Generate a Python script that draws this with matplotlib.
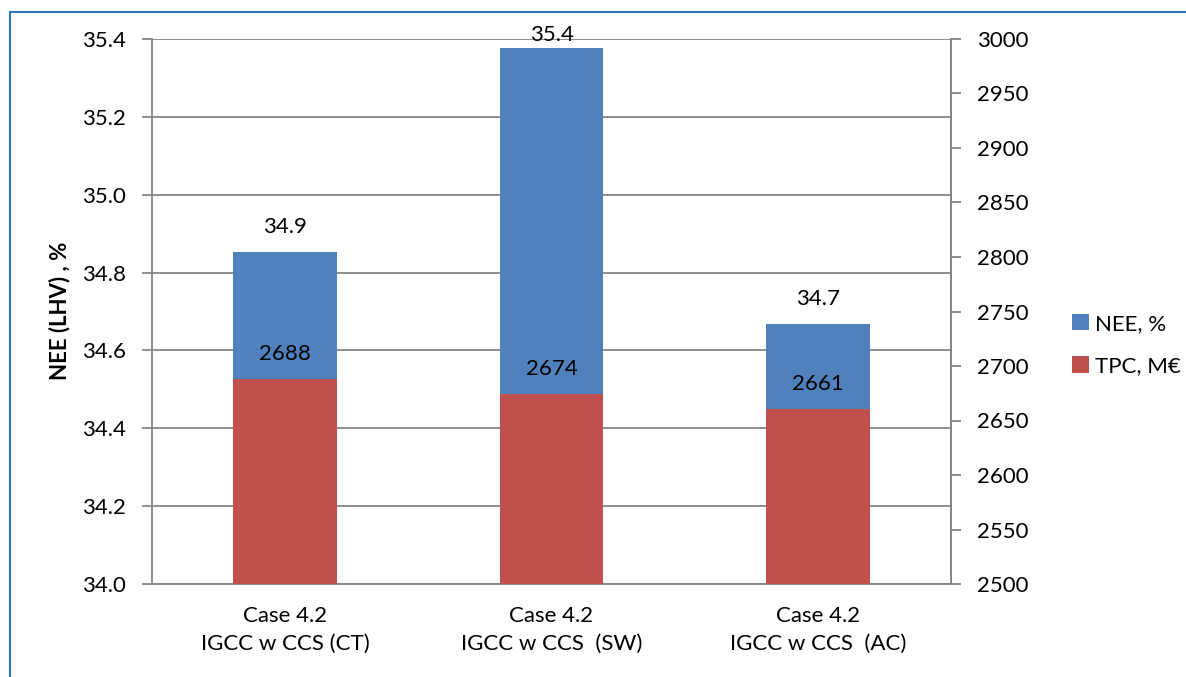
import matplotlib
matplotlib.use("Agg")
import matplotlib.pyplot as plt
from matplotlib.patches import Rectangle

plt.rcParams['font.family'] = ['Lato', 'DejaVu Sans']

# Datos de los tres casos
casos = ["Case 4.2\nIGCC w CCS (CT)", "Case 4.2\nIGCC w CCS  (SW)", "Case 4.2\nIGCC w CCS  (AC)"]
nee = [34.853, 35.377, 34.668]      # NEE (LHV), %
tpc = [2688, 2674, 2661]            # TPC, M€

azul = '#4F81BD'
rojo = '#C0504D'
gris = '#868686'
fs = 16

fig = plt.figure(figsize=(11.86, 6.77), dpi=100)
ax = fig.add_axes([152 / 1186, 1 - 584 / 677, 799 / 1186, 545 / 677])
ax2 = ax.twinx()

x = range(len(casos))
ancho = 0.39

b1 = ax.bar(x, nee, width=ancho, color=azul, label='NEE, %', zorder=2)
ax.set_ylim(34.0, 35.4)
ax.set_yticks([34.0, 34.2, 34.4, 34.6, 34.8, 35.0, 35.2, 35.4])
ax.set_yticklabels(['%.1f' % v for v in ax.get_yticks()])
ax.set_xlim(-0.5, 2.5)
ax.set_xticks(list(x))
ax.set_xticklabels(casos, fontsize=fs, linespacing=1.45)
ax.tick_params(axis='x', length=0, pad=16)
ax.tick_params(axis='y', labelsize=fs, length=7, color=gris, width=1.3, pad=12)
ax.grid(axis='y', color=gris, linewidth=1.3, zorder=0)
ax.set_axisbelow(True)

# Título del eje izquierdo, junto a las marcas
fig.text(60 / 1186, 1 - 311 / 677, 'NEE (LHV) , %', rotation=90, ha='center', va='center',
         fontsize=fs, fontweight='bold')

b2 = ax2.bar(x, [v - 2500 for v in tpc], bottom=2500, width=ancho, color=rojo,
             label='TPC, M€', zorder=3)
ax2.set_ylim(2500, 3000)
ax2.set_yticks(range(2500, 3001, 50))
ax2.tick_params(axis='y', labelsize=fs, length=7, color=gris, width=1.3, pad=12)

for a in (ax, ax2):
    a.spines['top'].set_visible(False)
    for lado in ('left', 'right', 'bottom'):
        a.spines[lado].set_color(gris)
        a.spines[lado].set_linewidth(1.3)
ax2.spines['left'].set_visible(False)
ax2.spines['bottom'].set_visible(False)

# Etiquetas de valores
fig.canvas.draw()
tope_px = ax.transData.transform((0, 35.4))[1]
base_px = ax.transAxes.transform((0, 0))[1]
for i, v in enumerate(nee):
    y_px = ax.transData.transform((0, v))[1]
    desp = min(25, tope_px - y_px + 4)
    ax2.annotate('%.1f' % v, xy=(i, 0), xycoords=('data', 'axes fraction'),
                 xytext=(0, y_px - base_px + desp),
                 textcoords='offset pixels', ha='center', va='center',
                 fontsize=fs, zorder=5)
for i, v in enumerate(tpc):
    ax2.annotate(str(v), xy=(i, v), xytext=(0, 25), textcoords='offset pixels',
                 ha='center', va='center', fontsize=fs, zorder=5)

fig.legend(handles=[b1, b2], loc='center left', bbox_to_anchor=(1052 / 1186, 1 - 345 / 677),
           frameon=False, fontsize=fs, handlelength=0.75, handleheight=0.75,
           handletextpad=0.3, labelspacing=1.0)

# Marco del área del gráfico
fig.patches.append(Rectangle((10 / 1186, -0.1), 1.2, 1 - 12 / 677 + 0.1,
                             transform=fig.transFigure, fill=False,
                             edgecolor='#2E75C4', linewidth=1.5))

fig.savefig('out.png', dpi=100)
